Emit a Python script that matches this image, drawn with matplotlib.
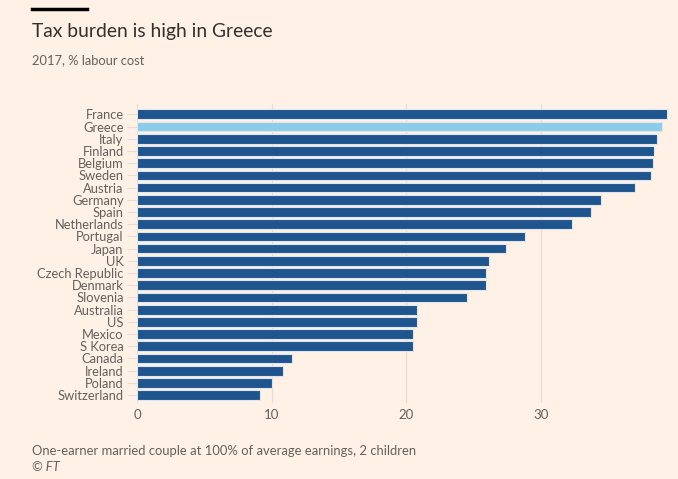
import matplotlib.pyplot as plt
from matplotlib.lines import Line2D

countries = ['France', 'Greece', 'Italy', 'Finland', 'Belgium', 'Sweden', 'Austria',
             'Germany', 'Spain', 'Netherlands', 'Portugal', 'Japan', 'UK',
             'Czech Republic', 'Denmark', 'Slovenia', 'Australia', 'US', 'Mexico',
             'S Korea', 'Canada', 'Ireland', 'Poland', 'Switzerland']
tax_burden = [39.4, 39.0, 38.6, 38.4, 38.3, 38.2, 37.0, 34.5, 33.7, 32.3, 28.8, 27.4,
              26.1, 25.9, 25.9, 24.5, 20.8, 20.8, 20.5, 20.5, 11.5, 10.8, 10.0, 9.1]
highlight = 'Greece'
xticks = [0, 10, 20, 30]

bg = '#fff1e5'
dark_blue = '#1e558e'
light_blue = '#8bcde9'
grey_text = '#66605c'
grid_col = '#e9ddd2'

plt.rcParams['font.family'] = ['Lato', 'DejaVu Sans']

fig = plt.figure(figsize=(6.78, 4.79), dpi=100, facecolor=bg)
ax = fig.add_axes([0.2028, 0.1587, 0.7855, 0.6242])
ax.set_facecolor(bg)

colors = [light_blue if c == highlight else dark_blue for c in countries]
ypos = range(len(countries))
ax.barh(ypos, tax_burden, height=0.8, color=colors, edgecolor='#dfe5ec',
        linewidth=0.8, zorder=3)

ax.set_xlim(0, 39.6)
ax.set_ylim(len(countries) - 0.35, -0.85)
ax.set_yticks(list(ypos))
ax.set_yticklabels(countries)
ax.set_xticks(xticks)
ax.set_xticklabels([str(t) for t in xticks])

for t in xticks:
    ax.axvline(t, color=grid_col, lw=0.9, zorder=1)

for s in ax.spines.values():
    s.set_visible(False)
ax.tick_params(axis='y', length=7, width=0.8, color=grid_col, pad=3,
               labelsize=9.3, labelcolor=grey_text)
ax.tick_params(axis='x', length=0, pad=4, labelsize=9.5, labelcolor=grey_text)

# header
fig.add_artist(Line2D([32 / 678, 87 / 678], [1 - 9 / 479, 1 - 9 / 479],
                      color='black', lw=2.5, transform=fig.transFigure))
fig.text(32 / 678, 1 - 31 / 479, 'Tax burden is high in Greece', fontsize=13.9,
         color='#33302e', va='center', ha='left')
fig.text(32 / 678, 1 - 60 / 479, '2017, % labour cost', fontsize=9.3,
         color=grey_text, va='center', ha='left')

# footer
fig.text(32 / 678, 1 - 451 / 479,
         'One-earner married couple at 100% of average earnings, 2 children',
         fontsize=9.35, color=grey_text, va='center', ha='left')
fig.text(32 / 678, 1 - 467 / 479, '© FT', fontsize=9.3, style='italic',
         color=grey_text, va='center', ha='left')

fig.savefig('out.png', dpi=100, facecolor=bg)
